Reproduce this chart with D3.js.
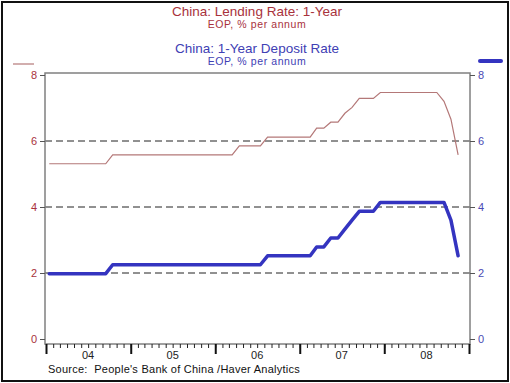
<!DOCTYPE html>
<html><head><meta charset="utf-8">
<script src="https://cdn.jsdelivr.net/npm/d3@7"></script>
<style>body{margin:0;background:#fff;}svg{display:block;font-family:"Liberation Sans",Arial,sans-serif;}text{white-space:pre;}</style>
</head><body><svg id="c" width="510" height="383"></svg>
<script>
// Monthly data, Jan 2004 - Nov 2008 (end of period)
const months = [];
for (let y = 2004; y <= 2008; y++) for (let m = 0; m < 12; m++) if (!(y === 2008 && m > 10)) months.push(new Date(y, m, 15));
const lending = [
  5.31,5.31,5.31,5.31,5.31,5.31,5.31,5.31,5.31,5.58,5.58,5.58,
  5.58,5.58,5.58,5.58,5.58,5.58,5.58,5.58,5.58,5.58,5.58,5.58,
  5.58,5.58,5.58,5.85,5.85,5.85,5.85,6.12,6.12,6.12,6.12,6.12,
  6.12,6.12,6.39,6.39,6.57,6.57,6.84,7.02,7.29,7.29,7.29,7.47,
  7.47,7.47,7.47,7.47,7.47,7.47,7.47,7.47,7.20,6.66,5.58
];
const deposit = [
  1.98,1.98,1.98,1.98,1.98,1.98,1.98,1.98,1.98,2.25,2.25,2.25,
  2.25,2.25,2.25,2.25,2.25,2.25,2.25,2.25,2.25,2.25,2.25,2.25,
  2.25,2.25,2.25,2.25,2.25,2.25,2.25,2.52,2.52,2.52,2.52,2.52,
  2.52,2.52,2.79,2.79,3.06,3.06,3.33,3.60,3.87,3.87,3.87,4.14,
  4.14,4.14,4.14,4.14,4.14,4.14,4.14,4.14,4.14,3.60,2.52
];
const yTicks = [0,2,4,6,8];
const gridVals = [2,4,6];
const yearLabels = ["04","05","06","07","08"];
const years = [2004,2005,2006,2007,2008,2009];

const svg = d3.select("#c");
const redTitle = "#a8323c", blueTitle = "#4040b4";
const lendColor = "#b47878", depColor = "#3434c0";

// frame
svg.append("rect").attr("x",2).attr("y",2).attr("width",506).attr("height",379)
  .attr("fill","none").attr("stroke","#111").attr("stroke-width",2);

const x = d3.scaleTime().domain([new Date(2004,0,1), new Date(2009,0,1)]).range([46,469]);
const y = d3.scaleLinear().domain([0,8]).range([339,75]);

// titles
const t = svg.append("g").attr("text-anchor","middle");
t.append("text").attr("x",257).attr("y",16).attr("font-size",13.5).attr("fill",redTitle).text("China: Lending Rate: 1-Year");
t.append("text").attr("x",257).attr("y",28).attr("font-size",10.5).attr("letter-spacing",0.6).attr("fill",redTitle).text("EOP, % per annum");
t.append("text").attr("x",257).attr("y",53).attr("font-size",13.5).attr("fill",blueTitle).text("China: 1-Year Deposit Rate");
t.append("text").attr("x",257).attr("y",65).attr("font-size",10.5).attr("letter-spacing",0.6).attr("fill",blueTitle).text("EOP, % per annum");

// legend markers
svg.append("line").attr("x1",13).attr("x2",34).attr("y1",64).attr("y2",64).attr("stroke",lendColor).attr("stroke-width",1.2);
svg.append("line").attr("x1",480).attr("x2",501).attr("y1",61).attr("y2",61).attr("stroke",depColor).attr("stroke-width",4).attr("stroke-linecap","round");

// grid
svg.append("g").selectAll("line").data(gridVals).join("line")
  .attr("x1",45).attr("x2",470).attr("y1",d=>y(d)).attr("y2",d=>y(d))
  .attr("stroke","#222").attr("stroke-width",1).attr("stroke-dasharray","7,4");

// plot box
svg.append("rect").attr("x",45).attr("y",73).attr("width",425).attr("height",271)
  .attr("fill","none").attr("stroke","#808080").attr("stroke-width",1.5);

// left axis
const la = svg.append("g").attr("transform","translate(45,0)")
  .call(d3.axisLeft(y).tickValues(yTicks).tickSize(5).tickPadding(3).tickFormat(d3.format("d")));
la.select(".domain").remove();
la.selectAll("line").attr("stroke","#555");
la.selectAll("text").attr("fill",redTitle).attr("font-size",11).attr("font-family","Liberation Sans, Arial, sans-serif");

// right axis
const ra = svg.append("g").attr("transform","translate(470,0)")
  .call(d3.axisRight(y).tickValues(yTicks).tickSize(5).tickPadding(3).tickFormat(d3.format("d")));
ra.select(".domain").remove();
ra.selectAll("line").attr("stroke","#555");
ra.selectAll("text").attr("fill","#4a4ab4").attr("font-size",11).attr("font-family","Liberation Sans, Arial, sans-serif");

// bottom axis: minor monthly ticks
const monthTicks = d3.timeMonth.range(new Date(2004,0,1), new Date(2009,0,1));
const ba = svg.append("g").attr("transform","translate(0,344)")
  .call(d3.axisBottom(x).tickValues(monthTicks).tickSize(4).tickFormat(""));
ba.select(".domain").remove();
ba.selectAll("line").attr("stroke","#222").attr("stroke-width",1);
const bm = svg.append("g").attr("transform","translate(0,344)")
  .call(d3.axisBottom(x).tickValues(years.map(v=>new Date(v,0,1))).tickSize(10).tickFormat(""));
bm.select(".domain").remove();
bm.selectAll("line").attr("stroke","#111").attr("stroke-width",2);
svg.append("g").selectAll("text").data(yearLabels).join("text")
  .attr("x",(d,i)=>x(new Date(years[i],6,1))).attr("y",359).attr("text-anchor","middle")
  .attr("font-size",11).attr("fill","#222").text(d=>d);

// lines
const line = d3.line().x((d,i)=>x(months[i])).y(d=>y(d));
svg.append("path").datum(lending).attr("d",line).attr("fill","none").attr("stroke",lendColor).attr("stroke-width",1.2);
svg.append("path").datum(deposit).attr("d",line).attr("fill","none").attr("stroke",depColor).attr("stroke-width",3.5).attr("stroke-linejoin","round").attr("stroke-linecap","round");

// source
svg.append("text").attr("x",48).attr("y",373).attr("font-size",11).attr("letter-spacing",0.25).attr("fill","#111")
  .text("Source:  People's Bank of China /Haver Analytics");
</script></body></html>
